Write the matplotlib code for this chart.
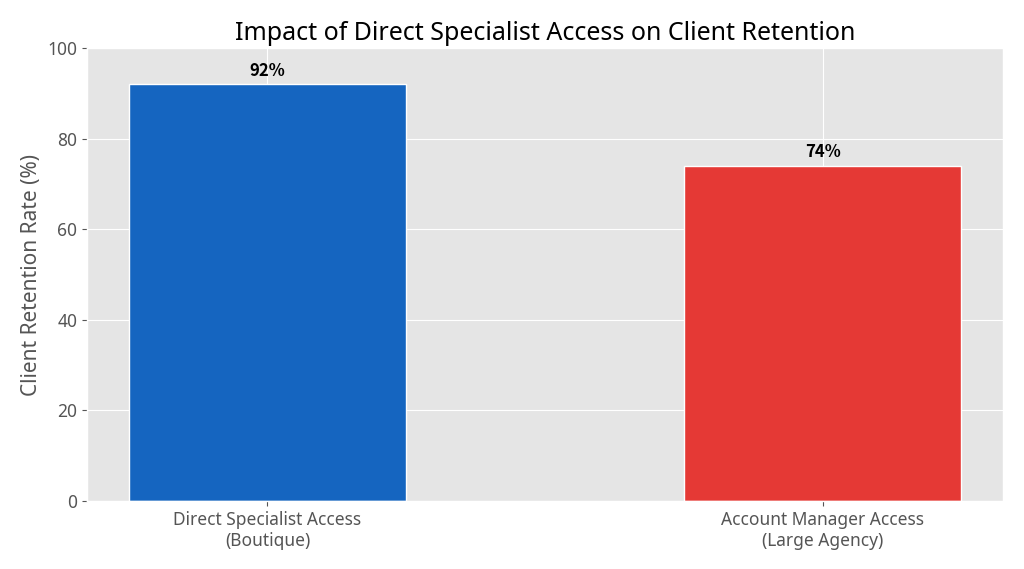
import matplotlib
matplotlib.use('Agg')
from matplotlib import pyplot as plt

categories = ['Direct Specialist Access\n(Boutique)', 'Account Manager Access\n(Large Agency)']
retention = [92, 74]
labels = ['92%', '74%']
colors = ['#1565C0', '#E53935']

plt.style.use('ggplot')
plt.rcParams['font.family'] = ['Noto Sans', 'DejaVu Sans']

fig, ax = plt.subplots(figsize=(10.24, 5.69), dpi=100)
fig.subplots_adjust(left=0.085, right=0.9795, top=0.9156, bottom=0.1195)

bars = ax.bar(categories, retention, width=0.5, color=colors, edgecolor='white', linewidth=1)
# value labels above the bars
for b, lab in zip(bars, labels):
    ax.text(b.get_x() + b.get_width() / 2, b.get_height() + 1.0, lab,
            ha='center', va='bottom', fontsize=12, fontweight='bold', color='black',
            family=['Noto Sans CJK SC', 'DejaVu Sans'])

ax.set_ylim(0, 100)
ax.set_ylabel('Client Retention Rate (%)', fontsize=15, color='#555555')
ax.set_title('Impact of Direct Specialist Access on Client Retention', fontsize=18, color='black')
ax.tick_params(axis='both', labelsize=12.5, colors='#555555')

fig.savefig('out.png', dpi=100)
